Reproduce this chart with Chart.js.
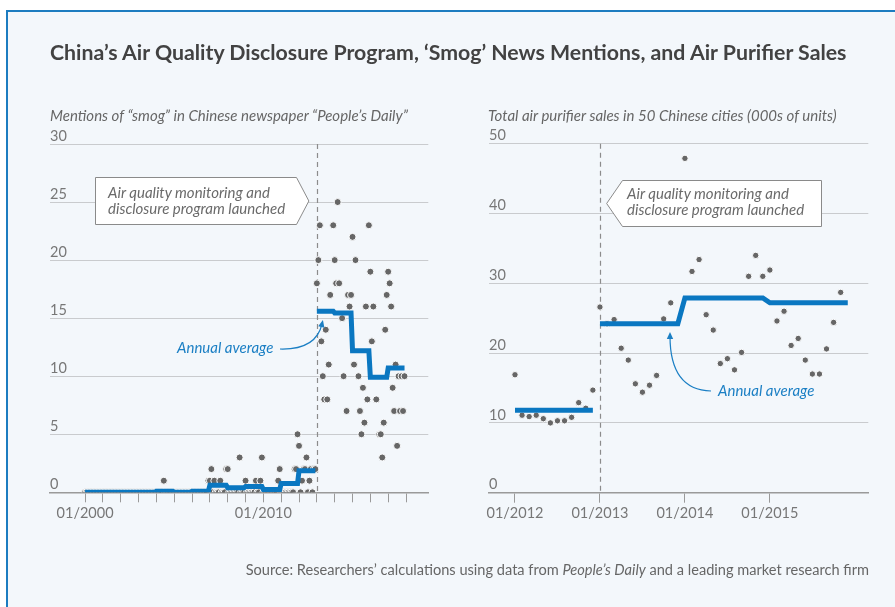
<!DOCTYPE html>
<html><head><meta charset="utf-8">
<script src="https://cdn.jsdelivr.net/npm/chart.js@4.4.1/dist/chart.umd.min.js"></script>
<style>
html,body{margin:0;padding:0;background:#fff;width:895px;height:607px;overflow:hidden;font-family:Lato,'Noto Sans',sans-serif;}
#frame{position:absolute;left:6px;top:10px;width:900px;height:610px;background:#f3f7fb;border-left:2px solid #1c7cc0;border-top:2px solid #1c7cc0;}
canvas{position:absolute;left:0;top:0;}
.t{position:absolute;white-space:nowrap;z-index:5;line-height:1.2;}
#title{left:50px;top:40px;font-size:21.3px;font-weight:700;color:#424242;}
.axt{font-size:15px;font-style:italic;color:#666;top:106px;}
.note{font-size:15px;font-style:italic;color:#6a6a6a;line-height:16px;}
.avg{font-size:15px;font-style:italic;color:#1b7fc4;}
#source{right:26px;top:560.6px;font-size:14.6px;color:#666;}
</style></head>
<body>
<div id="frame"></div>
<canvas id="left" width="895" height="607"></canvas>
<canvas id="right" width="895" height="607"></canvas>
<div class="t" id="title">China’s Air Quality Disclosure Program, ‘Smog’ News Mentions, and Air Purifier Sales</div>
<div class="t axt" style="left:50px">Mentions of “smog” in Chinese newspaper “People’s Daily”</div>
<div class="t axt" style="left:488px">Total air purifier sales in 50 Chinese cities (000s of units)</div>
<div class="t note" style="left:108px;top:184px">Air quality monitoring and<br>disclosure program launched</div>
<div class="t note" style="left:627px;top:185px">Air quality monitoring and<br>disclosure program launched</div>
<div class="t avg" style="left:177px;top:338px">Annual average</div>
<div class="t avg" style="left:718px;top:381px">Annual average</div>
<div class="t" id="source">Source: Researchers’ calculations using data from <i>People’s Daily</i> and a leading market research firm</div>
<script>
// ================= DATA =================
// Left panel: monthly mentions of "smog" in People's Daily, 01/2000 - 12/2017
const smogLaunchMonth = 156; // 01/2013, in months since 01/2000
const smogPreLaunch = [
  /*2000*/ 0,0,0,0,0,0,0,0,0,0,0,0,
  /*2001*/ 0,0,0,0,0,0,0,0,0,0,0,0,
  /*2002*/ 0,0,0,0,0,0,0,0,0,0,0,0,
  /*2003*/ 0,0,0,0,0,0,0,0,0,0,0,0,
  /*2004*/ 0,0,0,0,0,1,0,0,0,0,0,0,
  /*2005*/ 0,0,0,0,0,0,0,0,0,0,0,0,
  /*2006*/ 0,0,0,0,0,0,0,0,0,0,0,1,
  /*2007*/ 1,2,0,1,0,0,0,1,0,0,0,2,
  /*2008*/ 2,0,0,0,0,0,0,0,3,0,0,0,
  /*2009*/ 1,0,0,0,0,0,0,1,0,0,1,3,
  /*2010*/ 0,0,0,0,0,0,0,0,0,0,1,2,
  /*2011*/ 0,0,0,0,0,0,0,0,0,2,2,5,
  /*2012*/ 4,0,1,2,2,3,0,1,2,0,2,2
];
const smog2013 = [18,20,23,13,10,8,14,8,11,17,null,23];
const smog2014 = [20,18,25,18,null,15,10,null,7,17,16,17];
const smog2015 = [22,11,20,null,10,7,5,9,6,16,8,23];
const smog2016 = [19,13,16,null,8,null,5,5,3,6,14,17];
const smog2017 = [19,18,16,9,7,11,4,10,7,10,7,10];
const smogAnnualAvg = [0,0,0,0,0.1,0,0.1,0.6,0.4,0.5,0.25,0.75,1.85,15.6,15.45,12.2,9.9,10.7];
const smogTickMonths = [0,12,24,36,48,60,72,84,96,108,120,132,144,156,168,180,192,204,216];
const smogLabelMonths = [0,120];
const smogTickLabels = ['01/2000','01/2010'];
const smogYTicks = [0,5,10,15,20,25,30];

// Right panel: monthly air purifier sales (000s of units), 01/2012 - 12/2015
const salesLaunchMonth = 12; // 01/2013, in months since 01/2012
const sales2012 = [16.9,11.1,10.9,11.1,10.6,10.0,10.3,10.3,10.8,12.9,12.1,14.7];
const sales2013 = [26.6,24.2,24.8,20.7,19.0,15.6,14.4,15.4,16.8,24.9,27.2,null];
const sales2014 = [47.9,31.7,33.4,25.5,23.3,18.5,19.2,17.6,20.1,31.0,34.0,31.0];
const sales2015 = [31.9,24.6,26.0,21.1,22.1,19.0,17.0,17.0,20.6,24.4,28.7,null];
const salesAnnualAvg = [11.8,24.2,27.9,27.2];
const salesTickMonths = [0,12,24,36];
const salesTickLabels = ['01/2012','01/2013','01/2014','01/2015'];
const salesYTicks = [0,10,20,30,40,50];

// ================= BUILD =================
const BLUE = '#0a77c1';
const FONT = "Lato, 'Noto Sans', sans-serif";

function toPoints(values){
  return values.map((v,i)=>({x:i,y:v})).filter(p=>p.y!==null);
}
function annualLine(avgs, launch){
  const out=[];
  avgs.forEach((v,i)=>{
    if(i*12===launch) out.push({x:launch-0.5,y:null});
    for(let m=0;m<12;m++) out.push({x:i*12+m,y:v});
  });
  return out;
}

const annotPlugin = {
  id:'annot',
  beforeDatasetsDraw(chart,args,o){
    const {ctx,chartArea:ca,scales:{x}}=chart;
    const lx=Math.round(x.getPixelForValue(o.launch))+0.5;
    ctx.save();
    ctx.strokeStyle='#8c8c8c';ctx.lineWidth=1.2;ctx.setLineDash([5,4]);
    ctx.beginPath();ctx.moveTo(lx,ca.top);ctx.lineTo(lx,ca.bottom);ctx.stroke();
    ctx.restore();
  },
  afterDatasetsDraw(chart,args,o){
    const {ctx,chartArea:ca,scales:{x}}=chart;
    const lx=x.getPixelForValue(o.launch);
    const b=o.box;
    ctx.save();
    ctx.beginPath();
    const T=Math.round(ca.top+b.t)+0.5, B=Math.round(ca.top+b.b)+0.5, M=(T+B)/2;
    if(b.dir==='right'){
      const L=Math.round(ca.left+b.l)+0.5, R=Math.round(lx+b.r)+0.5, tip=lx+b.tip;
      ctx.moveTo(L,T);ctx.lineTo(R,T);ctx.lineTo(tip,M);ctx.lineTo(R,B);ctx.lineTo(L,B);ctx.closePath();
    } else {
      const L=Math.round(lx+b.l)+0.5, R=Math.round(lx+b.r)+0.5, tip=lx+b.tip;
      ctx.moveTo(L,T);ctx.lineTo(R,T);ctx.lineTo(R,B);ctx.lineTo(L,B);ctx.lineTo(tip,M);ctx.closePath();
    }
    ctx.fillStyle='#fff';ctx.fill();
    ctx.strokeStyle='#8a8a8a';ctx.lineWidth=1;ctx.stroke();
    // arrow
    const a=o.arrow;
    ctx.strokeStyle='#1b7fc4';ctx.fillStyle='#1b7fc4';ctx.lineWidth=1.2;
    ctx.beginPath();ctx.moveTo(a.s[0],a.s[1]);ctx.quadraticCurveTo(a.c[0],a.c[1],a.e[0],a.e[1]);ctx.stroke();
    const dx=a.e[0]-a.c[0], dy=a.e[1]-a.c[1], len=Math.hypot(dx,dy), ux=dx/len, uy=dy/len;
    const hl=7, hw=3.2;
    const tx=a.e[0]+ux*4, ty=a.e[1]+uy*4;
    ctx.beginPath();
    ctx.moveTo(tx,ty);
    ctx.lineTo(tx-ux*hl-uy*hw, ty-uy*hl+ux*hw);
    ctx.lineTo(tx-ux*hl+uy*hw, ty-uy*hl-ux*hw);
    ctx.closePath();ctx.fill();
    ctx.restore();
  }
};

function makeChart(id,c){
  return new Chart(document.getElementById(id),{
    type:'scatter',
    data:{datasets:[
      {data:c.line,showLine:true,borderColor:BLUE,borderWidth:5,pointRadius:0,pointHoverRadius:0,spanGaps:false,order:0,borderJoinStyle:'miter'},
      {data:c.points,backgroundColor:'#666666',borderColor:'#fbfcfd',borderWidth:1,pointRadius:c.r,pointHoverRadius:c.r,order:1}
    ]},
    options:{
      responsive:false,animation:false,devicePixelRatio:1,
      layout:{padding:c.pad},
      events:[],
      plugins:{legend:{display:false},tooltip:{enabled:false},annot:c.annot},
      scales:{
        x:{type:'linear',min:c.xmin,max:c.xmax,
          afterFit:s=>{s.height=30;},
          afterBuildTicks:s=>{s.ticks=c.xticks.map(v=>({value:v}));},
          grid:{display:true,drawOnChartArea:false,drawTicks:true,tickLength:10,color:'#9a9a9a',lineWidth:1},
          border:{display:true,color:'#9a9a9a',width:1.5},
          ticks:{autoSkip:false,maxRotation:0,padding:2,color:'#777',font:{family:FONT,size:14.5},
            callback:v=>{const i=c.labelAt.indexOf(v);return i>=0?c.labels[i]:'';}}
        },
        y:{type:'linear',min:0,max:c.ymax,
          afterFit:s=>{s.width=0;},
          afterBuildTicks:s=>{s.ticks=c.yticks.map(v=>({value:v}));},
          grid:{color:'#c9cbce',drawTicks:false,lineWidth:1},
          border:{display:false},
          ticks:{mirror:true,padding:0,labelOffset:-8,color:'#777',font:{family:FONT,size:14.5}}
        }
      }
    },
    plugins:[annotPlugin]
  });
}

makeChart('left',{
  points:toPoints([...smogPreLaunch,...smog2013,...smog2014,...smog2015,...smog2016,...smog2017]),
  line:annualLine(smogAnnualAvg,smogLaunchMonth),
  r:3.5,
  pad:{left:50,right:466.7,top:144,bottom:84.7},
  xmin:-23.6,xmax:231,ymax:30,
  xticks:smogTickMonths,labelAt:smogLabelMonths,labels:smogTickLabels,yticks:smogYTicks,
  annot:{launch:smogLaunchMonth,
    box:{dir:'right',l:45,r:-21,tip:-8,t:33,b:80},
    arrow:{s:[280,349],c:[316,350],e:[322,324]}}
});
makeChart('right',{
  points:toPoints([...sales2012,...sales2013,...sales2014,...sales2015]),
  line:annualLine(salesAnnualAvg,salesLaunchMonth),
  r:3.2,
  pad:{left:489,right:26.7,top:143.7,bottom:84.3},
  xmin:-3.67,xmax:49.9,ymax:50,
  xticks:salesTickMonths,labelAt:salesTickMonths,labels:salesTickLabels,yticks:salesYTicks,
  annot:{launch:salesLaunchMonth,
    box:{dir:'left',l:21.7,r:221,tip:6.7,t:36.3,b:82},
    arrow:{s:[711,391],c:[670,390],e:[670,336]}}
});
</script>
</body></html>
